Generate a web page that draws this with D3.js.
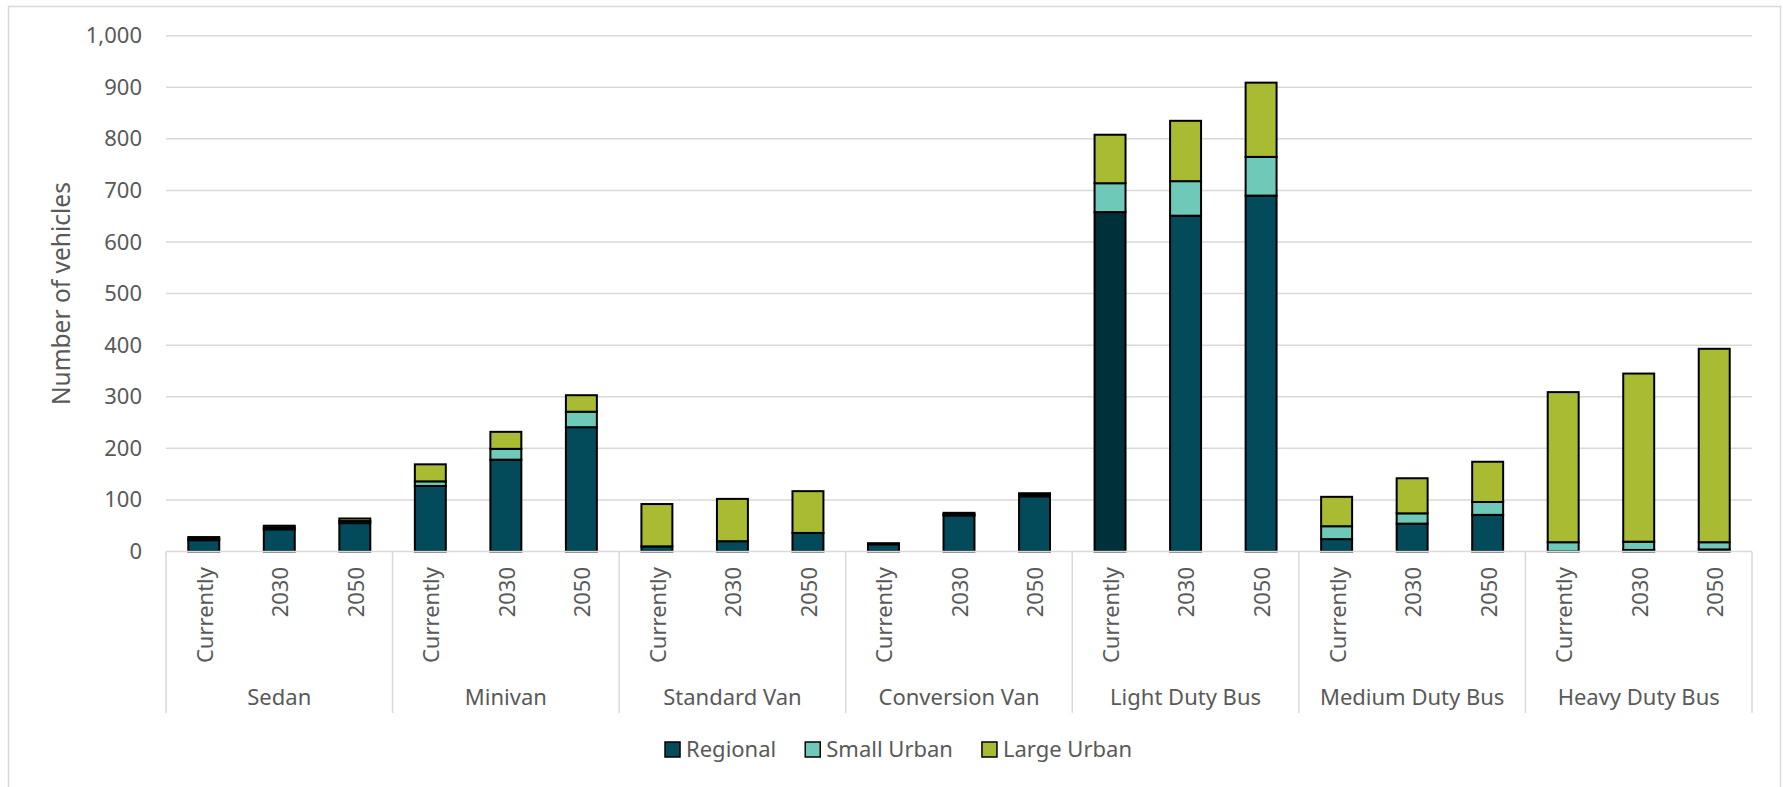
<!DOCTYPE html>
<html>
<head>
<meta charset="utf-8">
<script src="https://cdn.jsdelivr.net/npm/d3@7"></script>
<style>
  html, body { margin: 0; padding: 0; background: #ffffff; }
  svg { display: block; }
  text { font-family: "Noto Sans", "Open Sans", sans-serif; fill: #595959; }
</style>
</head>
<body>
<svg id="chart" width="1783" height="787"></svg>
<script>
// Vehicle categories and planning horizons
const groups = ["Sedan", "Minivan", "Standard Van", "Conversion Van", "Light Duty Bus", "Medium Duty Bus", "Heavy Duty Bus"];
const periods = ["Currently", "2030", "2050"];
const seriesNames = ["Regional", "Small Urban", "Large Urban"];

// Values per group, ordered Currently, 2030, 2050
const regional = [
  [22, 43, 55],
  [127, 178, 241],
  [10, 20, 36],
  [14, 70, 107],
  [658, 651, 690],
  [24, 54, 71],
  [0, 3, 4]
];
const smallUrban = [
  [3, 3, 4],
  [9, 21, 30],
  [0, 0, 0],
  [1, 2, 3],
  [56, 67, 75],
  [25, 20, 25],
  [18, 16, 14]
];
const largeUrban = [
  [3, 4, 5],
  [33, 33, 32],
  [82, 82, 81],
  [1, 3, 3],
  [94, 117, 144],
  [57, 68, 78],
  [291, 326, 375]
];

const yTicks = [0, 100, 200, 300, 400, 500, 600, 700, 800, 900, 1000];

// Styling
const colors = ["#034a5a", "#6fc9b8", "#a9bb33"];
const accentRegional = "#00313b"; // darker fill used for the current light duty bus regional fleet
const accentGroup = "Light Duty Bus", accentPeriod = "Currently";

const svg = d3.select("#chart");
const plot = { left: 166, right: 1752, top: 35.7, bottom: 551.5 };

// Chart frame
svg.append("rect")
  .attr("x", 8.5).attr("y", 6.5)
  .attr("width", 1772).attr("height", 820)
  .attr("fill", "#ffffff")
  .attr("stroke", "#d9d9d9").attr("stroke-width", 1.5);

// Scales
const y = d3.scaleLinear().domain([0, 1000]).range([plot.bottom, plot.top]);
const xGroup = d3.scaleBand().domain(groups).range([plot.left, plot.right]).padding(0);
const pad = 0.59;
const xPeriod = d3.scaleBand().domain(periods).range([0, xGroup.bandwidth()])
  .paddingInner(pad).paddingOuter(pad / 2);

// Gridlines
svg.append("g")
  .selectAll("line")
  .data(yTicks.filter(d => d > 0))
  .join("line")
  .attr("x1", plot.left).attr("x2", plot.right)
  .attr("y1", d => y(d)).attr("y2", d => y(d))
  .attr("stroke", "#d9d9d9").attr("stroke-width", 1.5);

// Y axis labels
const yAxis = d3.axisLeft(y).tickValues(yTicks).tickFormat(d3.format(",")).tickSize(0).tickPadding(24);
const yg = svg.append("g").attr("transform", `translate(${plot.left},0)`).call(yAxis);
yg.select(".domain").remove();
yg.selectAll("text")
  .style("font-family", "\"Noto Sans\", sans-serif")
  .style("font-size", "22px")
  .attr("fill", "#595959");

// Y axis title
svg.append("text")
  .attr("transform", `translate(70,${(plot.top + plot.bottom) / 2}) rotate(-90)`)
  .attr("text-anchor", "middle")
  .style("font-size", "24.5px")
  .text("Number of vehicles");

// Stack the series
const rows = [];
groups.forEach((g, gi) => {
  periods.forEach((p, pi) => {
    rows.push({ group: g, period: p, "Regional": regional[gi][pi], "Small Urban": smallUrban[gi][pi], "Large Urban": largeUrban[gi][pi] });
  });
});
const stacked = d3.stack().keys(seriesNames)(rows);

const barG = svg.append("g");
stacked.forEach((layer, si) => {
  barG.append("g")
    .selectAll("rect")
    .data(layer)
    .join("rect")
    .attr("x", d => xGroup(d.data.group) + xPeriod(d.data.period))
    .attr("width", xPeriod.bandwidth())
    .attr("y", d => y(d[1]))
    .attr("height", d => Math.max(0, y(d[0]) - y(d[1])))
    .attr("fill", d => (si === 0 && d.data.group === accentGroup && d.data.period === accentPeriod) ? accentRegional : colors[si])
    .attr("stroke", "#000000")
    .attr("stroke-width", 2)
    .attr("display", d => (d[1] - d[0]) > 0 ? null : "none");
});

// Category axis line
svg.append("line")
  .attr("x1", plot.left).attr("x2", plot.right)
  .attr("y1", plot.bottom).attr("y2", plot.bottom)
  .attr("stroke", "#d9d9d9").attr("stroke-width", 1.5);

// Group dividers
const dividers = groups.map(g => xGroup(g)).concat([plot.right]);
svg.append("g")
  .selectAll("line")
  .data(dividers)
  .join("line")
  .attr("x1", d => d).attr("x2", d => d)
  .attr("y1", plot.bottom).attr("y2", 713)
  .attr("stroke", "#d9d9d9").attr("stroke-width", 1.5);

// Period labels (rotated)
svg.append("g")
  .selectAll("text")
  .data(rows)
  .join("text")
  .attr("transform", d => `translate(${xGroup(d.group) + xPeriod(d.period) + xPeriod.bandwidth() / 2 + 1},567) rotate(-90)`)
  .attr("text-anchor", "end")
  .attr("dy", "0.36em")
  .style("font-size", "22px")
  .text(d => d.period);

// Group labels
svg.append("g")
  .selectAll("text")
  .data(groups)
  .join("text")
  .attr("x", d => xGroup(d) + xGroup.bandwidth() / 2)
  .attr("y", 705)
  .attr("text-anchor", "middle")
  .style("font-size", "22px")
  .text(d => d);

// Legend
const legend = svg.append("g");
const sq = 15, gapText = 6, gapItem = 29;
const items = seriesNames.map((name, i) => {
  const g = legend.append("g");
  g.append("rect").attr("width", sq).attr("height", sq)
    .attr("fill", colors[i]).attr("stroke", "#000000").attr("stroke-width", 1.5);
  const t = g.append("text").attr("x", sq + gapText).attr("y", sq)
    .style("font-size", "22px").text(name);
  return { g, w: sq + gapText + t.node().getComputedTextLength() };
});
const total = d3.sum(items, d => d.w) + gapItem * (items.length - 1);
let lx = 898.5 - total / 2;
items.forEach(it => {
  it.g.attr("transform", `translate(${lx},742)`);
  lx += it.w + gapItem;
});
</script>
</body>
</html>
